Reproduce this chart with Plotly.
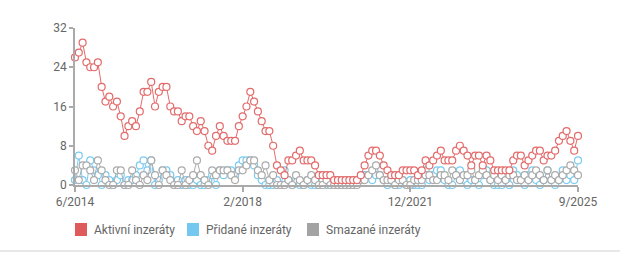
import plotly.graph_objects as go

# --- data (monthly, 133 points; a few months missing in source) ---
tick_positions = [0, 44, 88, 132]
tick_labels = ["6/2014", "2/2018", "12/2021", "9/2025"]
y_ticks = [0, 8, 16, 24, 32]

aktivni = [
    26, 27, 29, 25, 24, 24, 25, 20, 17, 18, 16, 17, 14, 10, 12, 13, 12, 15, 19,
    19, 21, 16, 19, 20, 20, 16, 15, 15, 13, 14, 14, 12, 11, 13, 11, 8, 7, 10, 12,
    10, 9, 9, 9, 12, 14, 16, 19, 17, 15, 13, 11, 11, 8, 4, 3, 2, 5, 5,
    6, 7, 5, 5, 5, 4, 2, 2, 2, 2, 1, 1, 1, 1, 1, 1, 1, 2, 4, 6, 7, 7, 6, 4, 3, 2,
    2, 2, 3, 3, 3, 3, 2, 3, 5, 4, 5, 6, 7, 5, 5, 5, 7, 8, 7, 6, 4, 6, 6, 4, 6, 5,
    3, 3, 3, 3, 3, 5, 6, 6, 4, 5, 6, 7, 7, 5, 6, 6, 7, 9, 10, 11, 9, 7, 10,
]
pridane = [
    1, 6, 1, 0, 5, 3, 2, 0, 2, 1, 0, 1, 2, 0, 1, 1, 2, 4, 5,
    3, 5, 0, 1, 3, 3, 2, 0, 1, 0, 1, 0, 0, 1, 0, 0, 1, 2, 0, 3,
    2, 3, 3, 2, 4, 5, 5, 5, 4, 2, 1, 0, 0, 0, 1, 0, 3, 1, 0,
    1, 0, 0, 1, 0, 0, 0, 1, 0, 1, 1, 0, 0, 0, 0, 0, 1, 1, 2, 2, 1, 2, 2, 1, 0, 1,
    0, 0, 1, 0, 1, 0, 0,
    0, 3, 1, 2, 3, 3, 1, 0, 0, 2, 3, 1, 0, 1, 1, 0, 2, 3, 1, 0, 0, 0, 1, 0, 3, 2,
    1, 0, 2, 3, 1, 0, 1, 3, 1, 0, 1, 3, 1, 2, 1, 5,
]
smazane = [
    3, 1, 4, 4, 3, 1, 5, 3, 1, 0, 0, 3, 3, 0, 0, 3, 1, 0, 2,
    1, 5, 2, 0, 3, 2, 1, 0, 0, 3, 0, 1, 2, 5, 2, 1, 0, 3, 2, 3,
    3, 3, 2, 1, 3, 3, 4, 5, 5, 3, 2, 4, 1, 2, 0, 0, 0, 1, 0,
    2, 1, 0, 1, 2, 1, 0, 0, 1, 0, 0, 0, 0, 0, 0, 0, 0, 1, 1, 2, 3, 4, 2, 1, 1, 1,
    0, 1, 1, 0, 0, 1, 1,
    1, 2, 2, 1, 1, 2, 2, 1, 3, 2, 1, 2, 2, 3, 1, 2, 3, 2, 1, 2, 1, 2, 1, 2, 2, 1,
    1, 2, 1, 2, 3, 2, 1, 3, 1, 2, 1, 2, 3, 4, 3, 2,
]

series_names = ["Aktivní inzeráty", "Přidané inzeráty", "Smazané inzeráty"]
line_colors = ["#E36B6B", "#7CCBF0", "#ABABAB"]
swatch_colors = ["#DF5B5B", "#74C7EF", "#A3A3A3"]

x = list(range(len(aktivni)))

fig = go.Figure()
for vals, name, col in [(pridane, series_names[1], line_colors[1]),
                        (smazane, series_names[2], line_colors[2]),
                        (aktivni, series_names[0], line_colors[0])]:
    fig.add_trace(go.Scatter(
        x=x, y=vals, name=name, mode="lines+markers",
        line=dict(color=col, width=1),
        marker=dict(symbol="circle", size=7, color="white",
                    line=dict(color=col, width=1.2)),
        cliponaxis=False, showlegend=False,
    ))

L, R, T, B = 75, 42, 28, 70
W = 620 - L - R
H = 255 - T - B

def px(xp):
    return (xp - L) / W

def py(yp):
    return (255 - B - yp) / H

shapes = []
annotations = []
legend_x = [75, 187, 307]
for lx, name, col in zip(legend_x, series_names, swatch_colors):
    x0, x1 = px(lx), px(lx + 12)
    y0, y1 = py(236), py(223)
    shapes.append(dict(type="rect", xref="paper", yref="paper",
                       x0=x0, x1=x1, y0=y0, y1=y1,
                       fillcolor=col, line=dict(width=0), layer="above"))
    annotations.append(dict(xref="paper", yref="paper", x=px(lx + 17), y=py(229.5),
                            text=name, showarrow=False, xanchor="left",
                            yanchor="middle",
                            font=dict(family="Roboto", size=12, color="#666666")))

shapes.append(dict(type="line", xref="paper", yref="paper",
                   x0=px(0), x1=px(620), y0=py(251), y1=py(251),
                   line=dict(color="#E8E8E8", width=2)))

fig.update_layout(
    width=620, height=255,
    margin=dict(l=L, r=R, t=T, b=B, pad=0),
    paper_bgcolor="white", plot_bgcolor="white",
    shapes=shapes, annotations=annotations,
    font=dict(family="Roboto", size=12, color="#666666"),
    xaxis=dict(range=[0, len(aktivni) - 1], tickvals=tick_positions,
               ticktext=tick_labels, showgrid=False, zeroline=False,
               showline=True, linecolor="#AAAAAA", linewidth=1.5,
               ticks="outside", ticklen=5, tickcolor="#AAAAAA", tickwidth=1.5,
               tickfont=dict(size=12, color="#666666")),
    yaxis=dict(range=[0, 32], tickvals=y_ticks, showgrid=False,
               zeroline=False, showline=True, linecolor="#AAAAAA",
               linewidth=1.5, ticks="outside", ticklen=4, tickcolor="#AAAAAA",
               tickwidth=1.5, tickfont=dict(size=12, color="#666666")),
    showlegend=False,
)

fig.write_html("out.html")
